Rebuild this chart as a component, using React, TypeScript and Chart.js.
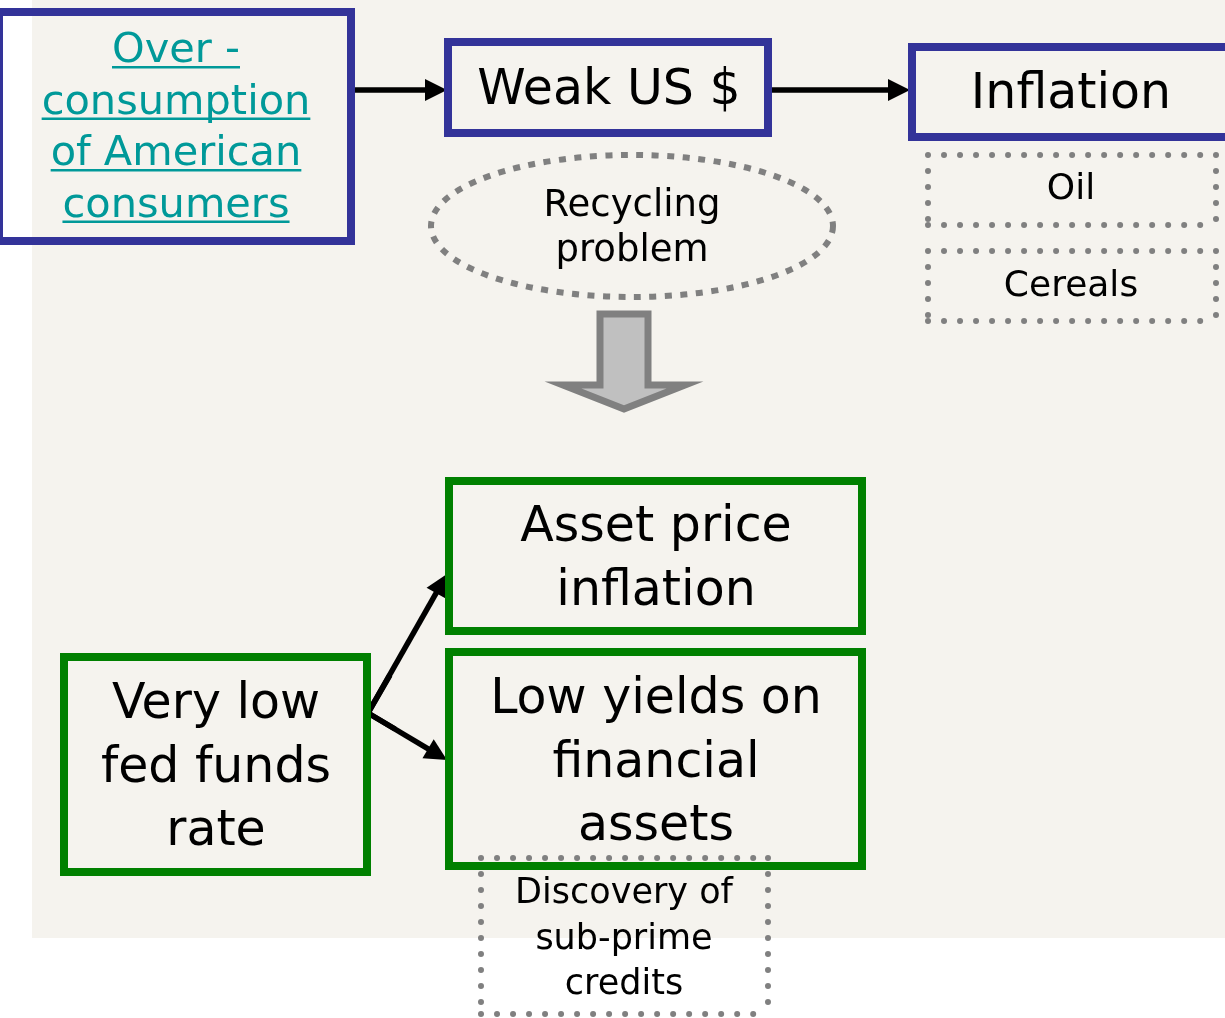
import React, { useEffect, useRef } from "react";
import { Chart, registerables } from "chart.js";

Chart.register(...registerables);

const CANVAS_W = 1225;
const CANVAS_H = 1018;

// ---- text content of the diagram ----
const consumptionLines = ["Over -", "consumption", "of American", "consumers"];
const dollarLines = ["Weak US $"];
const inflationLines = ["Inflation"];
const oilLines = ["Oil"];
const cerealLines = ["Cereals"];
const recyclingLines = ["Recycling", "problem"];
const assetLines = ["Asset price", "inflation"];
const yieldLines = ["Low yields on", "financial", "assets"];
const fedLines = ["Very low", "fed funds", "rate"];
const subprimeLines = ["Discovery of", "sub-prime", "credits"];

// ---- links between nodes ----
const linkFrom = ["consumption", "dollar", "fed", "fed"];
const linkTo = ["dollar", "inflation", "asset", "yield"];

// ---- layout (data units of the hidden scales) ----
type Node = {
  lines: string[];
  shape: "rect" | "dots" | "ellipse";
  x0: number; y0: number; x1: number; y1: number;
  cx: number; base: number; step: number; size: number;
  color: string; textColor: string; underline?: boolean;
};

const NAVY = "#333399";
const GREEN = "#008000";
const GREY = "#808080";
const TEAL = "#009999";
const INK = "#000000";
const FONT = '"DejaVu Sans"';

const nodes: Record<string, Node> = {
  consumption: { lines: consumptionLines, shape: "rect", x0: -1, y0: 12, x1: 351, y1: 241, cx: 176, base: 62, step: 51.5, size: 41.5, color: NAVY, textColor: TEAL, underline: true },
  dollar: { lines: dollarLines, shape: "rect", x0: 448, y0: 42, x1: 768, y1: 133, cx: 609, base: 104, step: 0, size: 49, color: NAVY, textColor: INK },
  inflation: { lines: inflationLines, shape: "rect", x0: 912, y0: 47, x1: 1236, y1: 137, cx: 1071, base: 108, step: 0, size: 49, color: NAVY, textColor: INK },
  oil: { lines: oilLines, shape: "dots", x0: 928, y0: 155, x1: 1216, y1: 225, cx: 1071, base: 199, step: 0, size: 36, color: GREY, textColor: INK },
  cereal: { lines: cerealLines, shape: "dots", x0: 928, y0: 251, x1: 1216, y1: 321, cx: 1071, base: 296, step: 0, size: 36, color: GREY, textColor: INK },
  recycling: { lines: recyclingLines, shape: "ellipse", x0: 431, y0: 155, x1: 833, y1: 297, cx: 632, base: 216, step: 45, size: 37, color: GREY, textColor: INK },
  asset: { lines: assetLines, shape: "rect", x0: 449, y0: 481, x1: 862, y1: 631, cx: 656, base: 541, step: 64, size: 49, color: GREEN, textColor: INK },
  yield: { lines: yieldLines, shape: "rect", x0: 449, y0: 652, x1: 862, y1: 866, cx: 656, base: 713, step: 63.5, size: 49, color: GREEN, textColor: INK },
  fed: { lines: fedLines, shape: "rect", x0: 64, y0: 657, x1: 367, y1: 872, cx: 216, base: 718, step: 63.5, size: 49, color: GREEN, textColor: INK },
  subprime: { lines: subprimeLines, shape: "dots", x0: 481, y0: 858, x1: 768, y1: 1014, cx: 624, base: 903, step: 45.5, size: 35, color: GREY, textColor: INK },
};

// arrow geometry for each link: [startX, startY, endX, endY]
const linkGeom: number[][] = [
  [355, 90, 447, 90],
  [772, 90, 910, 90],
  [368, 713, 447, 574],
  [368, 713, 447, 760],
];

// block arrow (recycling -> asset boxes)
const blockArrow = { shaftL: 600, shaftR: 648, top: 314, neck: 385, headL: 563, headR: 685, tip: 409 };

const panel = { x0: 32, y0: 0, x1: 1225, y1: 938 };

const diagramPlugin = {
  id: "diagram",
  beforeDraw(chart: any) {
    const { ctx, scales } = chart;
    const px = (v: number) => scales.x.getPixelForValue(v);
    const py = (v: number) => scales.y.getPixelForValue(v);
    ctx.save();
    ctx.fillStyle = "#ffffff";
    ctx.fillRect(0, 0, chart.width, chart.height);
    ctx.fillStyle = "#F5F3EE";
    ctx.fillRect(px(panel.x0), py(panel.y0), px(panel.x1) - px(panel.x0), py(panel.y1) - py(panel.y0));
    ctx.restore();
  },
  afterDraw(chart: any) {
    const { ctx, scales } = chart;
    const px = (v: number) => scales.x.getPixelForValue(v);
    const py = (v: number) => scales.y.getPixelForValue(v);

    const arrow = (x0: number, y0: number, x1: number, y1: number) => {
      const a = Math.atan2(py(y1) - py(y0), px(x1) - px(x0));
      const L = 22, Wd = 11;
      const ex = px(x1), ey = py(y1);
      const bx = ex - L * Math.cos(a), by = ey - L * Math.sin(a);
      ctx.save();
      ctx.strokeStyle = "#000";
      ctx.fillStyle = "#000";
      ctx.lineWidth = 5.5;
      ctx.lineCap = "butt";
      ctx.beginPath();
      ctx.moveTo(px(x0), py(y0));
      ctx.lineTo(bx + 2 * Math.cos(a), by + 2 * Math.sin(a));
      ctx.stroke();
      ctx.beginPath();
      ctx.moveTo(ex, ey);
      ctx.lineTo(bx + Wd * Math.sin(a), by - Wd * Math.cos(a));
      ctx.lineTo(bx - Wd * Math.sin(a), by + Wd * Math.cos(a));
      ctx.closePath();
      ctx.fill();
      ctx.restore();
    };

    // links
    linkFrom.forEach((_, i) => {
      const g = linkGeom[i];
      arrow(g[0], g[1], g[2], g[3]);
    });

    // joint at the fed fan-out
    ctx.save();
    ctx.strokeStyle = "#000";
    ctx.lineWidth = 5.5;
    ctx.lineJoin = "miter";
    ctx.beginPath();
    ctx.moveTo(px(390), py(675));
    ctx.lineTo(px(368), py(713));
    ctx.lineTo(px(395), py(729));
    ctx.stroke();
    ctx.restore();

    // block arrow
    const b = blockArrow;
    ctx.save();
    ctx.beginPath();
    ctx.moveTo(px(b.shaftL), py(b.top));
    ctx.lineTo(px(b.shaftR), py(b.top));
    ctx.lineTo(px(b.shaftR), py(b.neck));
    ctx.lineTo(px(b.headR), py(b.neck));
    ctx.lineTo(px((b.shaftL + b.shaftR) / 2), py(b.tip));
    ctx.lineTo(px(b.headL), py(b.neck));
    ctx.lineTo(px(b.shaftL), py(b.neck));
    ctx.closePath();
    ctx.fillStyle = "#C0C0C0";
    ctx.fill();
    ctx.strokeStyle = GREY;
    ctx.lineWidth = 7;
    ctx.lineJoin = "miter";
    ctx.stroke();
    ctx.restore();

    // nodes
    Object.keys(nodes).forEach((k) => {
      const n = nodes[k];
      const x0 = px(n.x0), y0 = py(n.y0), x1 = px(n.x1), y1 = py(n.y1);
      ctx.save();
      ctx.strokeStyle = n.color;
      if (n.shape === "rect") {
        ctx.lineWidth = 8;
        ctx.lineJoin = "miter";
        ctx.strokeRect(x0, y0, x1 - x0, y1 - y0);
      } else if (n.shape === "dots") {
        ctx.lineWidth = 6;
        ctx.lineCap = "round";
        ctx.setLineDash([0.01, 16]);
        ctx.beginPath();
        ctx.moveTo(x0, y0); ctx.lineTo(x1, y0);
        ctx.moveTo(x1, y0); ctx.lineTo(x1, y1);
        ctx.moveTo(x0, y1); ctx.lineTo(x1, y1);
        ctx.moveTo(x0, y0); ctx.lineTo(x0, y1);
        ctx.stroke();
      } else {
        ctx.lineWidth = 6;
        ctx.lineCap = "butt";
        ctx.setLineDash([7, 8.5]);
        ctx.beginPath();
        ctx.ellipse((x0 + x1) / 2, (y0 + y1) / 2, (x1 - x0) / 2, (y1 - y0) / 2, 0, 0, Math.PI * 2);
        ctx.stroke();
      }
      ctx.restore();

      ctx.save();
      ctx.font = `${n.size}px ${FONT}`;
      ctx.fillStyle = n.textColor;
      ctx.textAlign = "center";
      ctx.textBaseline = "alphabetic";
      n.lines.forEach((line, i) => {
        const tx = px(n.cx);
        const ty = py(n.base + i * n.step);
        ctx.fillText(line, tx, ty);
        if (n.underline) {
          const w = ctx.measureText(line).width;
          ctx.fillRect(tx - w / 2, ty + 4, w, 2.5);
        }
      });
      ctx.restore();
    });
  },
};

export default function App() {
  const ref = useRef<HTMLCanvasElement | null>(null);
  useEffect(() => {
    document.body.style.margin = "0";
    if (!ref.current) return;
    const chart = new Chart(ref.current, {
      type: "scatter",
      data: { datasets: [{ data: [], pointRadius: 0 }] },
      options: {
        animation: false,
        responsive: false,
        maintainAspectRatio: false,
        devicePixelRatio: 1,
        layout: { padding: 0 },
        plugins: { legend: { display: false }, tooltip: { enabled: false } },
        scales: {
          x: { type: "linear", min: 0, max: CANVAS_W, display: false },
          y: { type: "linear", min: 0, max: CANVAS_H, reverse: true, display: false },
        },
      },
      plugins: [diagramPlugin],
    });
    return () => chart.destroy();
  }, []);
  return (
    <div style={{ position: "absolute", left: 0, top: 0, width: CANVAS_W, height: CANVAS_H }}>
      <canvas ref={ref} width={CANVAS_W} height={CANVAS_H} style={{ display: "block" }} />
    </div>
  );
}
